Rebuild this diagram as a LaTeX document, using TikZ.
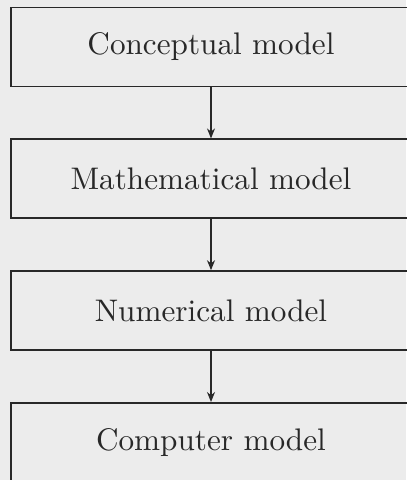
\documentclass[tikz,border=0pt]{standalone}
\usepackage{fontspec}
\usepackage{tikz}
\usetikzlibrary{positioning, arrows.meta}

\newfontfamily\boxfont{lmroman10-regular.otf}
\definecolor{paper}{RGB}{236,236,236}
\definecolor{ink}{RGB}{40,40,40}

\begin{document}
\begin{tikzpicture}[
    node distance=25.5pt,
    modelbox/.style={draw=ink, line width=0.9pt, minimum width=200pt, minimum height=39.5pt,
        inner sep=0pt, text=ink, font=\boxfont\fontsize{15.6}{19}\selectfont},
    flow/.style={draw=ink, line width=0.7pt, -{Stealth[length=5pt, width=4pt]}}
  ]
    % Page and background
    \fill[paper] (-105.5pt, -216.5pt) rectangle (97.5pt, 23.5pt);
    \useasboundingbox (-105.5pt, -216.5pt) rectangle (97.5pt, 23.5pt);

    % Chain of models
    \node[modelbox] (conceptual) at (0, 0) {Conceptual model};
    \node[modelbox, below=of conceptual] (mathematical) {Mathematical model};
    \node[modelbox, below=of mathematical] (numerical) {Numerical model};
    \node[modelbox, below=of numerical] (computer) {Computer model};

    % Arrows between them
    \draw[flow] (conceptual) -- (mathematical);
    \draw[flow] (mathematical) -- (numerical);
    \draw[flow] (numerical) -- (computer);
  \end{tikzpicture}
\end{document}
